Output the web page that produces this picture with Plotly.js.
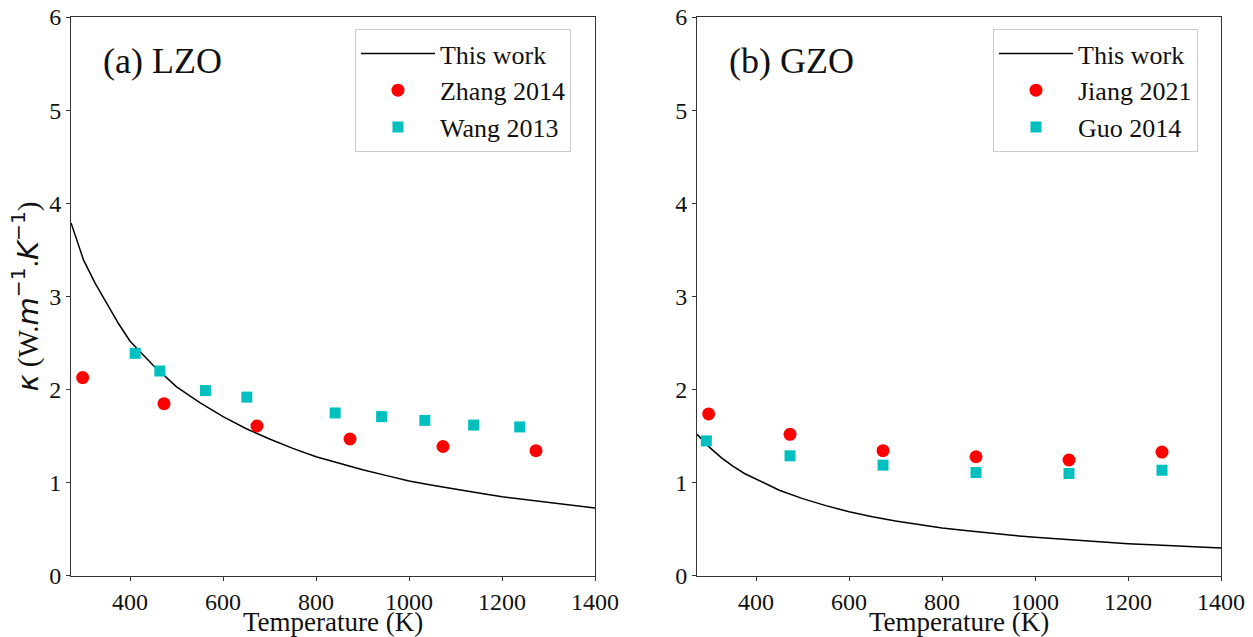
<!DOCTYPE html>
<html>
<head>
<meta charset="utf-8">
<script src="https://cdn.plot.ly/plotly-3.0.1.min.js"></script>
<style>html,body{margin:0;padding:0;background:#fff;}#chart{width:1253px;height:637px;}</style>
</head>
<body>
<div id="chart"></div>
<script>
// ---- data ----
const curveT = [273, 300, 325, 350, 375, 400, 450, 500, 550, 600, 650, 700, 750, 800, 850, 900, 950, 1000, 1050, 1100, 1150, 1200, 1250, 1300, 1350, 1400];
const lzoThisWork = [3.79, 3.39, 3.14, 2.93, 2.71, 2.52, 2.26, 2.03, 1.86, 1.71, 1.58, 1.47, 1.37, 1.28, 1.21, 1.14, 1.08, 1.02, 0.975, 0.93, 0.89, 0.85, 0.82, 0.785, 0.755, 0.73];
const gzoThisWork = [1.52, 1.38, 1.27, 1.18, 1.10, 1.04, 0.92, 0.83, 0.755, 0.69, 0.635, 0.59, 0.55, 0.515, 0.487, 0.46, 0.437, 0.415, 0.396, 0.378, 0.362, 0.347, 0.334, 0.322, 0.311, 0.30];

const zhangT = [298, 473, 673, 873, 1073, 1273];
const zhangK = [2.13, 1.85, 1.61, 1.47, 1.39, 1.345];

const wangT = [411, 464, 562, 651, 841, 941, 1034, 1139, 1238];
const wangK = [2.39, 2.20, 1.99, 1.92, 1.75, 1.71, 1.67, 1.62, 1.60];

const jiangT = [298, 473, 673, 873, 1073, 1273];
const jiangK = [1.74, 1.52, 1.345, 1.28, 1.245, 1.33];

const guoT = [293, 473, 673, 873, 1073, 1273];
const guoK = [1.45, 1.29, 1.19, 1.11, 1.10, 1.135];

const xLimits = [273, 1400];
const yLimits = [0, 6];

// ---- styling ----
const SERIF = 'Liberation Serif';
const RED = '#ff0000';
const CYAN = '#00bfbf';

const traces = [
  {x: curveT, y: lzoThisWork, type: 'scatter', mode: 'lines', name: 'This work',
   line: {color: '#000', width: 1.5}, xaxis: 'x', yaxis: 'y', legend: 'legend', legendgroup: 'a1'},
  {x: zhangT, y: zhangK, type: 'scatter', mode: 'markers', name: 'Zhang 2014',
   marker: {color: RED, size: 13, symbol: 'circle'}, xaxis: 'x', yaxis: 'y', legend: 'legend', legendgroup: 'a2'},
  {x: wangT, y: wangK, type: 'scatter', mode: 'markers', name: 'Wang 2013',
   marker: {color: CYAN, size: 11, symbol: 'square'}, xaxis: 'x', yaxis: 'y', legend: 'legend', legendgroup: 'a3'},
  {x: curveT, y: gzoThisWork, type: 'scatter', mode: 'lines', name: 'This work',
   line: {color: '#000', width: 1.5}, xaxis: 'x2', yaxis: 'y2', legend: 'legend2', legendgroup: 'b1'},
  {x: jiangT, y: jiangK, type: 'scatter', mode: 'markers', name: 'Jiang 2021',
   marker: {color: RED, size: 13, symbol: 'circle'}, xaxis: 'x2', yaxis: 'y2', legend: 'legend2', legendgroup: 'b2'},
  {x: guoT, y: guoK, type: 'scatter', mode: 'markers', name: 'Guo 2014',
   marker: {color: CYAN, size: 11, symbol: 'square'}, xaxis: 'x2', yaxis: 'y2', legend: 'legend2', legendgroup: 'b3'}
];

function xAxis(domain, anchor) {
  return {
    domain: domain, anchor: anchor,
    autorange: true,
    autorangeoptions: {include: xLimits, clipmin: xLimits[0], clipmax: xLimits[1]},
    nticks: 7,
    ticks: 'outside', ticklen: 4, tickwidth: 1, tickcolor: '#333',
    showline: true, linecolor: '#333', linewidth: 1, mirror: true,
    showgrid: false, zeroline: false,
    tickfont: {family: SERIF, size: 24, color: '#111'},
    title: {text: 'Temperature (K)', font: {family: SERIF, size: 27, color: '#111'}, standoff: 2}
  };
}
function yAxis(anchor, withTitle) {
  const ax = {
    domain: [0.0958, 0.9733], anchor: anchor,
    autorange: true,
    autorangeoptions: {include: yLimits, clipmin: yLimits[0], clipmax: yLimits[1]},
    nticks: 8,
    ticks: 'outside', ticklen: 4, tickwidth: 1, tickcolor: '#333',
    showline: true, linecolor: '#333', linewidth: 1, mirror: true,
    showgrid: false, zeroline: false,
    tickfont: {family: SERIF, size: 24, color: '#111'}
  };
  if (withTitle) {
    ax.title = {
      text: '<span style="font-family:DejaVu Sans"><i>κ</i></span> (W.<span style="font-family:DejaVu Sans"><i>m</i><sup>−1</sup></span>.<span style="font-family:DejaVu Sans"><i>K</i><sup>−1</sup></span>)',
      font: {family: SERIF, size: 29, color: '#111'}, standoff: 2
    };
  }
  return ax;
}

const legendCommon = {
  bgcolor: '#ffffff', bordercolor: '#cccccc', borderwidth: 1,
  font: {family: SERIF, size: 26, color: '#111'},
  xanchor: 'left', yanchor: 'top', traceorder: 'grouped', tracegroupgap: 0,
  itemwidth: 74
};

const layout = {
  width: 1253, height: 637,
  margin: {l: 0, r: 0, t: 0, b: 0},
  font: {family: SERIF, size: 24, color: '#111'},
  paper_bgcolor: '#ffffff', plot_bgcolor: '#ffffff',
  showlegend: true,
  xaxis: xAxis([0.0567, 0.4749], 'y'),
  yaxis: yAxis('x', true),
  xaxis2: xAxis([0.5563, 0.9745], 'y2'),
  yaxis2: yAxis('x2', false),
  legend: Object.assign({}, legendCommon, {x: 0.2833, y: 0.9545}),
  legend2: Object.assign({}, legendCommon, {x: 0.7925, y: 0.9545}),
  annotations: [
    {text: '(a) LZO', xref: 'x', yref: 'y', x: 338, y: 5.53, xanchor: 'left', yanchor: 'middle',
     showarrow: false, font: {family: SERIF, size: 36, color: '#111'}},
    {text: '(b) GZO', xref: 'x2', yref: 'y2', x: 338, y: 5.53, xanchor: 'left', yanchor: 'middle',
     showarrow: false, font: {family: SERIF, size: 36, color: '#111'}}
  ]
};

Plotly.newPlot('chart', traces, layout, {displayModeBar: false});
</script>
</body>
</html>
